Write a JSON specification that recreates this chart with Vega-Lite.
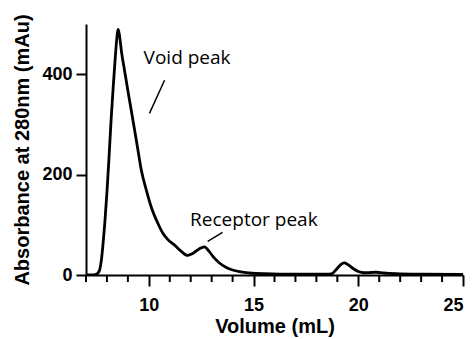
{
  "$schema": "https://vega.github.io/schema/vega-lite/v6.json",
  "width": 377,
  "height": 251,
  "autosize": {"type": "none"},
  "padding": {"left": 86, "top": 24, "right": 13, "bottom": 64},
  "background": "white",
  "config": {
    "view": {"stroke": null},
    "axis": {
      "grid": false,
      "domainColor": "black",
      "domainWidth": 2,
      "tickColor": "black",
      "tickWidth": 2,
      "labelColor": "black",
      "labelFont": "Liberation Sans",
      "labelFontWeight": "bold",
      "labelFontSize": 18,
      "titleColor": "black",
      "titleFont": "Liberation Sans",
      "titleFontWeight": "bold",
      "titleFontSize": 20
    }
  },
  "datasets": {
    "curve": [
      {"v": 7.0, "a": 0}, {"v": 7.3, "a": 0}, {"v": 7.45, "a": 1}, {"v": 7.55, "a": 3},
      {"v": 7.65, "a": 10}, {"v": 7.75, "a": 35}, {"v": 7.82, "a": 65}, {"v": 7.9, "a": 105},
      {"v": 8.0, "a": 165}, {"v": 8.1, "a": 235}, {"v": 8.2, "a": 310}, {"v": 8.3, "a": 375},
      {"v": 8.4, "a": 435}, {"v": 8.48, "a": 475}, {"v": 8.53, "a": 489}, {"v": 8.58, "a": 482},
      {"v": 8.7, "a": 443}, {"v": 8.85, "a": 405}, {"v": 9.0, "a": 367}, {"v": 9.16, "a": 328},
      {"v": 9.32, "a": 289}, {"v": 9.48, "a": 249}, {"v": 9.64, "a": 209}, {"v": 9.88, "a": 169},
      {"v": 10.11, "a": 136}, {"v": 10.43, "a": 103}, {"v": 10.67, "a": 83}, {"v": 10.9, "a": 71},
      {"v": 11.22, "a": 60}, {"v": 11.55, "a": 47}, {"v": 11.86, "a": 39}, {"v": 12.1, "a": 43},
      {"v": 12.4, "a": 52}, {"v": 12.65, "a": 56},
      {"v": 12.9, "a": 46}, {"v": 13.1, "a": 35}, {"v": 13.37, "a": 24}, {"v": 13.7, "a": 15},
      {"v": 14.0, "a": 10}, {"v": 14.4, "a": 6}, {"v": 14.8, "a": 4}, {"v": 15.5, "a": 2.5},
      {"v": 17.0, "a": 1.5}, {"v": 18.5, "a": 1.5}, {"v": 18.76, "a": 3}, {"v": 18.95, "a": 11},
      {"v": 19.15, "a": 20}, {"v": 19.32, "a": 24}, {"v": 19.5, "a": 21}, {"v": 19.75, "a": 13},
      {"v": 20.0, "a": 7}, {"v": 20.3, "a": 4.5}, {"v": 20.6, "a": 5}, {"v": 20.85, "a": 5.5},
      {"v": 21.2, "a": 4}, {"v": 21.8, "a": 2.5}, {"v": 23.0, "a": 1.5}, {"v": 25.0, "a": 1}
    ],
    "notes": [
      {"v": 9.75, "a": 421, "t": "Void peak"},
      {"v": 11.97, "a": 98, "t": "Receptor peak"}
    ],
    "pointers": [
      {"v": 10.75, "a": 388, "v2": 10.03, "a2": 322},
      {"v": 13.52, "a": 85, "v2": 12.81, "a2": 67}
    ],
    "minor": [
      {"v": 7}, {"v": 8}, {"v": 9}, {"v": 11}, {"v": 12}, {"v": 13}, {"v": 14}, {"v": 16},
      {"v": 17}, {"v": 18}, {"v": 19}, {"v": 21}, {"v": 22}, {"v": 23}, {"v": 24}
    ]
  },
  "layer": [
    {
      "data": {"name": "curve"},
      "mark": {"type": "line", "color": "black", "strokeWidth": 2.8, "interpolate": "monotone", "clip": true},
      "encoding": {
        "x": {
          "field": "v", "type": "quantitative",
          "scale": {"domain": [7, 25], "nice": false, "zero": false},
          "axis": {
            "title": "Volume (mL)",
            "values": [10, 15, 20, 25],
            "tickSize": 11,
            "labelOverlap": false,
            "labelPadding": 10,
            "titlePadding": 2
          }
        },
        "y": {
          "field": "a", "type": "quantitative",
          "scale": {"domain": [0, 500], "nice": false},
          "axis": {
            "title": "Absorbance at 280nm (mAu)",
            "values": [0, 200, 400],
            "tickSize": 10,
            "labelPadding": 4,
            "titlePadding": 9
          }
        }
      }
    },
    {
      "data": {"name": "minor"},
      "mark": {"type": "rule", "color": "black", "strokeWidth": 2, "clip": false},
      "encoding": {
        "x": {"field": "v", "type": "quantitative"},
        "y": {"datum": 0, "type": "quantitative"},
        "y2": {"datum": -14}
      }
    },
    {
      "data": {"name": "pointers"},
      "mark": {"type": "rule", "color": "black", "strokeWidth": 1.5},
      "encoding": {
        "x": {"field": "v", "type": "quantitative"},
        "y": {"field": "a", "type": "quantitative"},
        "x2": {"field": "v2"},
        "y2": {"field": "a2"}
      }
    },
    {
      "data": {"name": "notes"},
      "mark": {"type": "text", "align": "left", "baseline": "alphabetic", "font": "Open Sans", "fontSize": 19, "color": "black"},
      "encoding": {
        "x": {"field": "v", "type": "quantitative"},
        "y": {"field": "a", "type": "quantitative"},
        "text": {"field": "t"}
      }
    }
  ]
}
